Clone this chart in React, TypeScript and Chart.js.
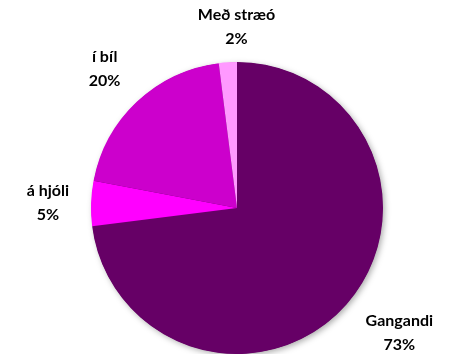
import React, { useEffect, useRef } from "react";
import { Chart, registerables } from "chart.js";

Chart.register(...registerables);

const categories = ["Gangandi", "á hjóli", "í bíl", "Með stræó"];
const values = [73, 5, 20, 2];
const percentLabels = ["73%", "5%", "20%", "2%"];
const colors = ["#660066", "#FF00FF", "#CC00CC", "#FF99FF"];

const FONT = "bold 16px Lato, 'Open Sans', sans-serif";

const labelPlugin = {
  id: "outsideLabels",
  afterDatasetsDraw(chart: any, _args: any, opts: any) {
    const ctx = chart.ctx;
    const meta = chart.getDatasetMeta(0);
    const nudges = (opts && opts.nudges) || [];
    ctx.save();
    ctx.font = FONT;
    ctx.fillStyle = "#000";
    ctx.textAlign = "center";
    ctx.textBaseline = "middle";
    const lineH = 24;
    meta.data.forEach((arc: any, i: number) => {
      const p = arc.getProps(["x", "y", "startAngle", "endAngle", "outerRadius"], true);
      const mid = (p.startAngle + p.endAngle) / 2;
      const dx = Math.cos(mid);
      const dy = Math.sin(mid);
      const w = Math.max(ctx.measureText(categories[i]).width, ctx.measureText(percentLabels[i]).width);
      const h = lineH * 2;
      const d = p.outerRadius + 14;
      const n = nudges[i] || [0, 0];
      const cx = p.x + dx * d + dx * w / 2 + n[0];
      const cy = p.y + dy * d + dy * h / 2 + n[1];
      ctx.fillText(categories[i], cx, cy - lineH / 2);
      ctx.fillText(percentLabels[i], cx, cy + lineH / 2);
    });
    ctx.restore();
  },
};

const shadowPlugin = {
  id: "pieShadow",
  beforeDatasetsDraw(chart: any) {
    const ctx = chart.ctx;
    const meta = chart.getDatasetMeta(0);
    const a = meta.data[0];
    if (!a) return;
    ctx.save();
    ctx.shadowColor = "rgba(0,0,0,0.35)";
    ctx.shadowBlur = 6;
    ctx.shadowOffsetX = 2;
    ctx.shadowOffsetY = 2;
    ctx.fillStyle = "#660066";
    ctx.beginPath();
    ctx.arc(a.x, a.y, a.outerRadius - 0.5, 0, Math.PI * 2);
    ctx.fill();
    ctx.restore();
  },
};

export default function App() {
  const ref = useRef<HTMLCanvasElement | null>(null);
  useEffect(() => {
    if (!ref.current) return;
    const chart = new Chart(ref.current, {
      type: "pie",
      data: {
        labels: categories,
        datasets: [
          {
            data: values,
            backgroundColor: colors,
            borderWidth: 0,
          },
        ],
      },
      options: {
        animation: false,
        responsive: false,
        maintainAspectRatio: false,
        layout: { padding: { left: 91, right: 80, top: 62, bottom: 0 } },
        plugins: {
          legend: { display: false },
          tooltip: { enabled: false },
          // @ts-ignore
          outsideLabels: { nudges: [[17, 3], [-8, 1], [-12, -5], [12, 2]] },
        },
      },
      plugins: [shadowPlugin, labelPlugin],
    });
    return () => chart.destroy();
  }, []);
  return (
    <div style={{ position: "fixed", left: 0, top: 0, width: 463, height: 354, background: "#fff" }}>
      <canvas ref={ref} width={463} height={354} style={{ display: "block" }} />
    </div>
  );
}
